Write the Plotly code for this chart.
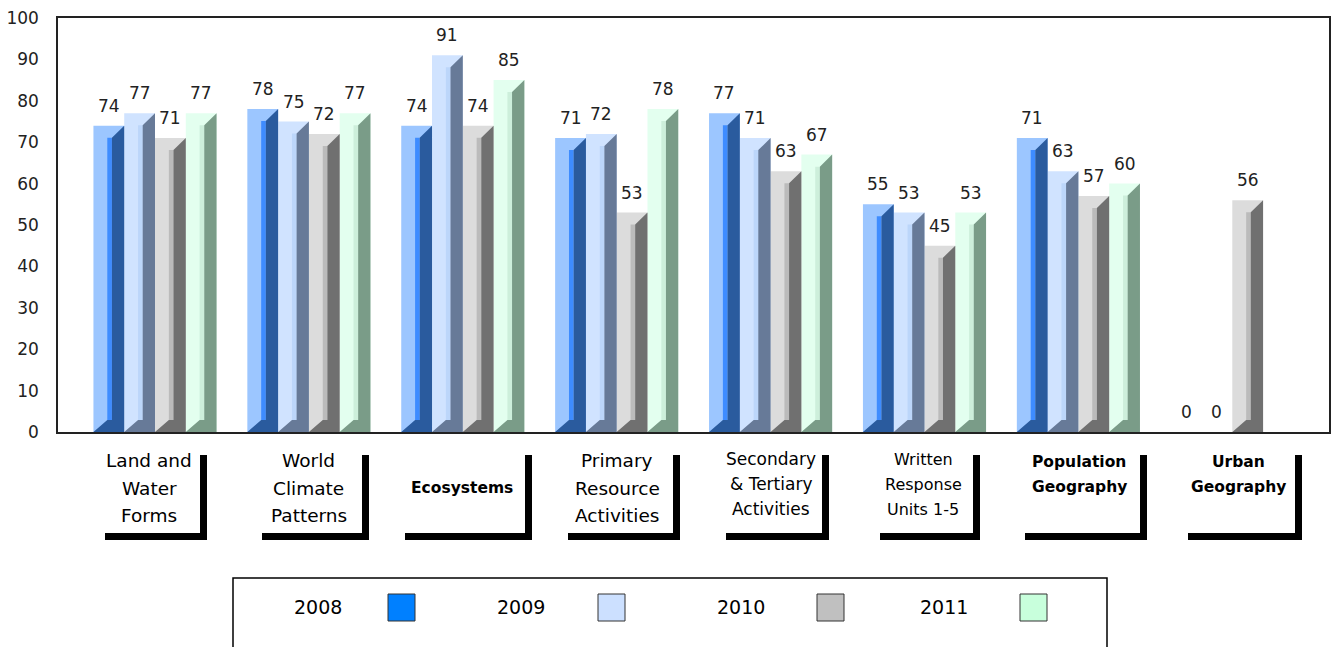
import plotly.graph_objects as go

# ---------------- data ----------------
categories = [
    "Land and Water Forms", "World Climate Patterns", "Ecosystems",
    "Primary Resource Activities", "Secondary & Tertiary Activities",
    "Written Response Units 1-5", "Population Geography", "Urban Geography",
]
category_lines = [
    ["Land and", "Water", "Forms"],
    ["World", "Climate", "Patterns"],
    ["Ecosystems"],
    ["Primary", "Resource", "Activities"],
    ["Secondary", "& Tertiary", "Activities"],
    ["Written", "Response", "Units 1-5"],
    ["Population", "Geography"],
    ["Urban", "Geography"],
]
years = ["2008", "2009", "2010", "2011"]
v2008 = [74, 78, 74, 71, 77, 55, 71, 0]
v2009 = [77, 75, 91, 72, 71, 53, 63, 0]
v2010 = [71, 72, 74, 53, 63, 45, 57, 56]
v2011 = [77, 77, 85, 78, 67, 53, 60, None]
series = [v2008, v2009, v2010, v2011]
y_ticks = [0, 10, 20, 30, 40, 50, 60, 70, 80, 90, 100]

# ---------------- styles ----------------
FONT = "DejaVu Sans"
face_colors = ["#9CC6FF", "#D0E3FF", "#DCDCDC", "#E3FFEF"]
strip_colors = ["#3E8CFF", "#BCD6FA", "#BBBBBB", "#CDEFDB"]
dark_colors = ["#2A5B9E", "#677A98", "#707070", "#7A9C88"]
legend_colors = ["#0080FF", "#CCE0FF", "#C0C0C0", "#C8FFDC"]

BAR_W = 0.2
HT = 2.9   # bevel height at top (axis units)
HB = 2.9   # bevel height at bottom

# body margin is removed by a post script, so the figure starts at (0, 0)
W, H = 1333, 647
# plot area in screen pixels
PX_L, PX_R, PX_T, PX_B = 58, 1329, 18, 432


def paper_x(px):
    return (px - PX_L) / (PX_R - PX_L)


def paper_y(py):
    return (PX_B - py) / (PX_B - PX_T)


fig = go.Figure()
annotations = []

for k, vals in enumerate(series):
    offs = -0.4 + BAR_W * k
    xs_face, ys_face = [], []
    xs_strip, ys_strip, base_strip = [], [], []
    px_poly, py_poly = [], []
    for i, v in enumerate(vals):
        if v is None:
            continue
        xl = i + offs
        xr = xl + BAR_W
        xs1 = xl + 0.45 * BAR_W
        xs2 = xl + 0.60 * BAR_W
        xs_face.append(xl + BAR_W / 2)
        ys_face.append(v)
        annotations.append(dict(
            x=xl + BAR_W / 2, y=v, xref="x", yref="y", text=str(v),
            showarrow=False, yanchor="bottom", yshift=8,
            font=dict(family=FONT, size=17, color="#222222"),
        ))
        if v > HT + HB:
            xs_strip.append((xs1 + xs2) / 2)
            ys_strip.append(v - HT - HB)
            base_strip.append(HB)
            px_poly += [xl, xr, xr, xs2, xs2, xs1, xl, None]
            py_poly += [0, 0, v, v - HT, HB, HB, 0, None]
    fig.add_trace(go.Bar(
        x=xs_face, y=ys_face, width=BAR_W, marker=dict(color=face_colors[k], line=dict(width=0)),
        name=years[k], showlegend=False, hoverinfo="skip",
    ))
    fig.add_trace(go.Bar(
        x=xs_strip, y=ys_strip, base=base_strip, width=0.15 * BAR_W,
        marker=dict(color=strip_colors[k], line=dict(width=0)),
        showlegend=False, hoverinfo="skip",
    ))
    fig.add_trace(go.Scatter(
        x=px_poly, y=py_poly, mode="lines", fill="toself", fillcolor=dark_colors[k],
        line=dict(width=0, color=dark_colors[k]), showlegend=False, hoverinfo="skip",
    ))

# ---------------- category label boxes ----------------
box_right = [200, 362, 525, 673, 822, 973, 1140, 1295]
box_left = [105, 262, 405, 568, 726, 880, 1025, 1188]
label_size = [18.5, 18.5, 15.5, 18.5, 17, 16, 15.5, 15.5]
label_bold = [False, False, True, False, False, False, True, True]
line_y = {
    3: [460, 488, 515],
    "small": [459, 484, 509],
    2: [462, 487],
    1: [488],
}
shapes = []
for i, lines in enumerate(category_lines):
    R, L = box_right[i], box_left[i]
    shapes.append(dict(type="rect", xref="paper", yref="paper",
                       x0=paper_x(R), x1=paper_x(R + 7), y0=paper_y(540), y1=paper_y(455),
                       fillcolor="black", line=dict(width=0)))
    shapes.append(dict(type="rect", xref="paper", yref="paper",
                       x0=paper_x(L), x1=paper_x(R + 7), y0=paper_y(540), y1=paper_y(533),
                       fillcolor="black", line=dict(width=0)))
    cx = (L - 7 + R) / 2
    if len(lines) == 3 and label_size[i] < 18:
        ys = line_y["small"]
    else:
        ys = line_y[len(lines)]
    for t, yy in zip(lines, ys):
        txt = f"<b>{t}</b>" if label_bold[i] else t
        annotations.append(dict(
            x=paper_x(cx), y=paper_y(yy), xref="paper", yref="paper", text=txt,
            showarrow=False, xanchor="center", yanchor="middle",
            font=dict(family=FONT, size=label_size[i], color="black"),
        ))

# ---------------- legend (drawn) ----------------
shapes.append(dict(type="rect", xref="paper", yref="paper",
                   x0=paper_x(233), x1=paper_x(1107), y0=paper_y(670), y1=paper_y(578),
                   fillcolor="rgba(0,0,0,0)", line=dict(color="black", width=1.5)))
leg_text_x = [318, 521, 741, 944]
leg_box_x = [388, 598, 817, 1020]
for k, yr in enumerate(years):
    annotations.append(dict(
        x=paper_x(leg_text_x[k]), y=paper_y(607), xref="paper", yref="paper", text=yr,
        showarrow=False, xanchor="center", yanchor="middle",
        font=dict(family=FONT, size=19, color="black"),
    ))
    shapes.append(dict(type="rect", xref="paper", yref="paper",
                       x0=paper_x(leg_box_x[k]), x1=paper_x(leg_box_x[k] + 27),
                       y0=paper_y(621), y1=paper_y(594),
                       fillcolor=legend_colors[k], line=dict(color="#333333", width=1)))

fig.update_layout(
    width=W, height=H,
    margin=dict(l=PX_L, r=W - PX_R, t=PX_T, b=H - PX_B, pad=0),
    plot_bgcolor="white", paper_bgcolor="white",
    barmode="overlay", showlegend=False,
    shapes=shapes, annotations=annotations,
    xaxis=dict(
        range=[(PX_L - 155) / 153.9, (PX_R - 155) / 153.9],
        showticklabels=False, showgrid=False, zeroline=False, automargin=False,
        showline=True, mirror=True, linecolor="#222222", linewidth=1.5, ticks="",
    ),
    yaxis=dict(
        range=[0, 100], tickvals=y_ticks, ticktext=[str(t) for t in y_ticks],
        showgrid=False, zeroline=False, automargin=False,
        showline=True, mirror=True, linecolor="#222222", linewidth=1.5,
        ticks="outside", ticklen=14, tickcolor="rgba(0,0,0,0)",
        ticklabeloverflow="allow",
        tickfont=dict(family=FONT, size=17, color="#222222"),
    ),
)

fig.write_html(
    "out.html",
    config={"displayModeBar": False},
    post_script="document.body.style.margin='0';document.body.style.overflow='hidden';",
)
